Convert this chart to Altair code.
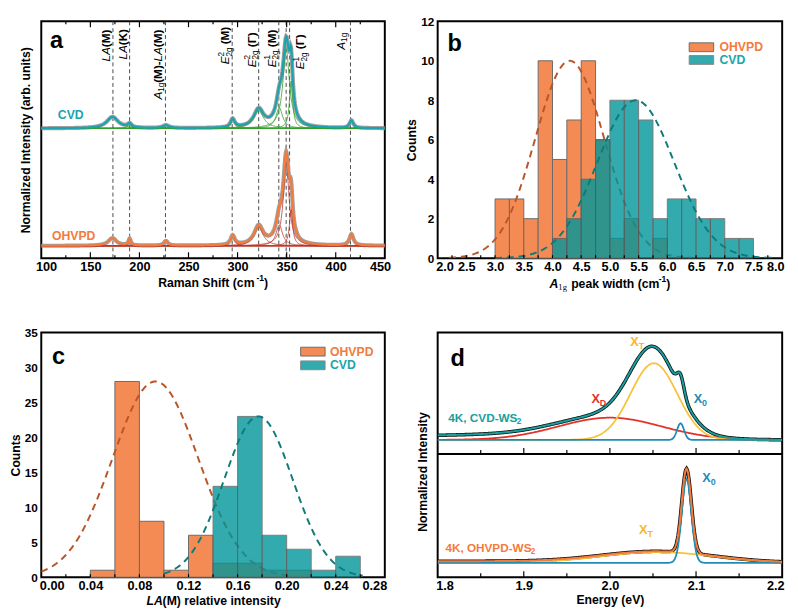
import numpy as np
import pandas as pd
import altair as alt

FONT = "Liberation Sans"

# ---------------- (a) Raman spectra: Lorentzian fit components ----------------
raman_centers = [172.5, 190.0, 227.0, 295.0, 321.5, 342.5, 349.5, 354.5, 416.0]
cvd_raman_amp = [0.122, 0.041, 0.031, 0.092, 0.194, 0.224, 0.856, 0.510, 0.082]
cvd_raman_fwhm = [14.0, 5.0, 8.0, 5.0, 12.0, 8.0, 8.0, 4.0, 4.5]
ohvpd_raman_amp = [0.082, 0.071, 0.051, 0.102, 0.204, 0.224, 0.898, 0.388, 0.122]
ohvpd_raman_fwhm = [10.0, 3.0, 5.0, 5.0, 11.0, 8.0, 7.0, 4.0, 5.0]
raman_mode_lines = [173.0, 190.0, 226.5, 294.5, 321.5, 342.0, 349.5, 353.0, 415.0]
raman_ticks = [100, 150, 200, 250, 300, 350, 400, 450]
raman_major_inner = [150, 200, 250, 300, 350, 400]
raman_minor_inner = [125, 175, 225, 275, 325, 375, 425]

# ---------------- (b) A1g peak width histogram ----------------
b_ohvpd_left = [3.0, 3.25, 3.5, 3.75, 4.0, 4.25, 4.5, 4.75, 5.0, 5.25, 5.75]
b_ohvpd_count = [3, 3, 2, 10, 5, 7, 10, 6, 1, 2, 1]
b_cvd_left = [4.0, 4.25, 4.5, 4.75, 5.0, 5.25, 5.5, 5.75, 6.0, 6.25, 6.5, 6.75, 7.0, 7.25]
b_cvd_count = [1, 2, 4, 6, 8, 8, 7, 2, 3, 3, 2, 2, 1, 1]
b_bin = 0.25
b_fit_ohvpd = (4.30, 0.60, 10.0)   # centre, sigma, height
b_fit_cvd = (5.45, 0.67, 8.0)
b_xticks = [2.0, 2.5, 3.0, 3.5, 4.0, 4.5, 5.0, 5.5, 6.0, 6.5, 7.0, 7.5, 8.0]
b_yticks = [0, 2, 4, 6, 8, 10, 12]
b_inner = [2.25, 2.5, 2.75, 3.0, 3.25, 3.5, 3.75, 4.0, 4.25, 4.5, 4.75, 5.0, 5.25, 5.5, 5.75,
           6.0, 6.25, 6.5, 6.75, 7.0, 7.25, 7.5, 7.75]

# ---------------- (c) LA(M) relative intensity histogram ----------------
c_ohvpd_left = [0.04, 0.06, 0.08, 0.10, 0.12, 0.14, 0.16, 0.18, 0.20]
c_ohvpd_count = [1, 28, 8, 1, 6, 2, 2, 1, 1]
c_cvd_left = [0.14, 0.16, 0.18, 0.20, 0.22, 0.24]
c_cvd_count = [13, 23, 6, 4, 1, 3]
c_bin = 0.02
c_fit_ohvpd = (0.093, 0.035, 28.0)
c_fit_cvd = (0.177, 0.028, 23.0)
c_xticks = [0.0, 0.04, 0.08, 0.12, 0.16, 0.20, 0.24, 0.28]
c_yticks = [0, 5, 10, 15, 20, 25, 30, 35]
c_inner = [0.02, 0.04, 0.06, 0.08, 0.10, 0.12, 0.14, 0.16, 0.18, 0.20, 0.22, 0.24, 0.26]

# ---------------- (d) 4K PL: Gaussian fit components ----------------
pl_cvd_names = ["XD", "XT", "X0"]
pl_cvd_center = [2.000, 2.051, 2.082]
pl_cvd_sigma = [0.060, 0.027, 0.004]
pl_cvd_amp = [0.227, 0.783, 0.170]
pl_cvd_bg = (1.85, 0.12, 0.05)
pl_ohvpd_names = ["XT", "X0"]
pl_ohvpd_center = [2.055, 2.089]
pl_ohvpd_sigma = [0.065, 0.0055]
pl_ohvpd_amp = [0.110, 0.860]
pl_ohvpd_bg = (1.80, 0.20, 0.017)
d_xticks = [1.8, 1.9, 2.0, 2.1, 2.2]
d_major_inner = [1.9, 2.0, 2.1]
d_minor_inner = [1.85, 1.95, 2.05, 2.15]

# ---------------- colours ----------------
C_ORANGE_BAR = "#F58B54"
C_TEAL_BAR = "#00959A"
C_ORANGE_FIT = "#B8552A"
C_TEAL_FIT = "#0E7B7A"
C_CVD = "#1BA3B1"
C_OHVPD = "#F47B3B"
C_GREEN = "#33A02C"
C_RED_COMP = "#C0392B"
C_D_TEAL = "#16A09E"
C_D_RED = "#E2332B"
C_D_YEL = "#F9C23C"
C_D_BLUE = "#1E8CB5"

# ---------------- geometry ----------------
W1, W2 = 351, 352
H1, H2 = 242, 250

W_REG = {' ': 278, '(': 333, ')': 333, '-': 333, '.': 278, ',': 278, 'A': 667, 'C': 722, 'D': 722,
         'E': 667, 'K': 667, 'L': 556, 'M': 833, 'O': 778, 'P': 667, 'R': 722, 'S': 667, 'T': 611,
         'V': 667, 'W': 944, 'X': 667, 'H': 722, 'a': 556, 'c': 500, 'e': 556, 'g': 556, 'h': 556,
         'i': 222, 'l': 222, 'm': 833, 'n': 556, 'o': 556, 'p': 556, 'r': 333, 's': 500, 't': 278,
         'u': 556, 'v': 500, 'w': 722, 'y': 500, 'k': 500, 'd': 556, 'Γ': 556}
W_BOLD = {' ': 278, '(': 333, ')': 333, '-': 333, '.': 278, ',': 278, 'A': 722, 'C': 722, 'D': 722,
          'E': 667, 'K': 722, 'L': 611, 'M': 833, 'O': 778, 'P': 667, 'R': 722, 'S': 667, 'T': 611,
          'V': 667, 'W': 944, 'X': 667, 'H': 722, 'a': 556, 'c': 556, 'e': 556, 'g': 611, 'h': 611,
          'i': 278, 'l': 278, 'm': 889, 'n': 611, 'o': 611, 'p': 611, 'r': 389, 's': 556, 't': 333,
          'u': 611, 'v': 556, 'w': 778, 'y': 556, 'k': 556, 'd': 611, 'Γ': 611}


def text_width(s, size, bold):
    tbl = W_BOLD if bold else W_REG
    return 0.99 * sum(tbl.get(ch, 556) for ch in s) / 1000.0 * size


def xaxis(values, fmt, title="", flush_off=2):
    return alt.Axis(values=values, format=fmt, title=title, labelFlush=True, labelFlushOffset=flush_off,
                    tickSize=0, domain=False,
                    grid=False, labelFont=FONT, labelFontSize=13, labelFontWeight="bold",
                    labelColor="black", labelPadding=3, labelOverlap=False, titleFont=FONT,
                    titleFontSize=12.5, titleFontWeight="bold", titleColor="black", titlePadding=1)


def yaxis(values, title):
    return alt.Axis(values=values, title=title, tickSize=0, domain=False, grid=False, labelFont=FONT,
                    labelFontSize=12, labelFontWeight="bold", labelColor="black", labelPadding=4,
                    labelOverlap=False, titleFont=FONT, titleFontSize=12.5, titleFontWeight="bold",
                    titleColor="black", titlePadding=2)


class Panel:
    """Holds the shared scales and axes of one layered panel."""

    def __init__(self, xs, ys, ax, ay):
        self.xs, self.ys, self.ax, self.ay = xs, ys, ax, ay

    def X(self, f):
        return alt.X(f, scale=self.xs, axis=self.ax)

    def Y(self, f):
        return alt.Y(f, scale=self.ys, axis=self.ay)


def rich(segs, x, y, size, color="black", angle=0, center=False, dy0=0.0, P=None, xdata=False, ydata=False):
    """Text with sub/superscripts built from several text marks."""
    items, cur = [], 0.0
    for seg in segs:
        text, kind, bold, italic = seg[:4]
        font = seg[4] if len(seg) > 4 else FONT
        sz = size * (0.7 if kind != "n" else 1.0)
        stripped = text.lstrip(" ")
        lead = text_width(text[:len(text) - len(stripped)], sz, bold)
        items.append((stripped, kind, bold, italic, font, sz, cur + lead))
        if kind != "sup0":
            cur += text_width(text, sz, bold)
    shift = -cur / 2.0 if center else 0.0
    layers = []
    for text, kind, bold, italic, font, sz, pos in items:
        off = {"n": 0.0, "sup": -0.38 * size, "sup0": -0.38 * size, "sub": 0.3 * size}[kind]
        df = {"t": [text]}
        if xdata:
            df["xd"] = [x]
            xe = P.X("xd:Q")
        else:
            xe = alt.value(x)
        if ydata:
            df["yd"] = [y]
            ye = P.Y("yd:Q")
        else:
            ye = alt.value(y)
        layers.append(
            alt.Chart(pd.DataFrame(df)).mark_text(
                align="left", baseline="middle", angle=angle, font=font, fontSize=sz,
                fontWeight="bold" if bold else "normal",
                fontStyle="italic" if italic else "normal",
                color=color, dx=shift + pos, dy=dy0 + off,
            ).encode(x=xe, y=ye, text="t:N")
        )
    return layers


def inner_ticks(P, vals, y_from, length, direction=-1):
    return alt.Chart(pd.DataFrame({"v": vals})).mark_rule(color="black", strokeWidth=1.2).encode(
        x=P.X("v:Q"), y=alt.value(y_from), y2=alt.value(y_from + direction * length))


def letter(ch, x, y):
    return alt.Chart(pd.DataFrame({"t": [ch]})).mark_text(
        align="left", baseline="alphabetic", font=FONT, fontSize=24, fontWeight="bold", color="black"
    ).encode(x=alt.value(x), y=alt.value(y), text="t:N")


def legend_box(w, x0, x1, ty, label, fill, color, opacity=1.0):
    sw = alt.Chart(pd.DataFrame({"t": [label]})).mark_rect(
        fill=fill, stroke="#6b6b6b", strokeWidth=1, opacity=opacity
    ).encode(x=alt.value(w + x0), x2=alt.value(w + x0 + 25), y=alt.value(ty - 4.5), y2=alt.value(ty + 4.5))
    tx = alt.Chart(pd.DataFrame({"t": [label]})).mark_text(
        align="left", baseline="middle", font=FONT, fontSize=12.5, fontWeight="bold", color=color
    ).encode(x=alt.value(w + x1), y=alt.value(ty), text="t:N")
    return [sw, tx]


# =============================== panel a ===============================
PA = Panel(alt.Scale(domain=[100, 450], nice=False, zero=False),
           alt.Scale(domain=[-0.133, 2.418], nice=False, zero=False),
           xaxis(raman_ticks, "d", "", flush_off=6),
           alt.Axis(title="Normalized Intensity (arb. units)", labels=False, ticks=False, domain=False,
                    grid=False, titleFont=FONT, titleFontSize=12.5, titleFontWeight="bold",
                    titleColor="black", titlePadding=9))
CVD_OFF = 1.265
grid_a = np.round(np.arange(100, 450.0001, 0.5), 2)


def lorentz(x, c, h, w):
    return h / (1.0 + ((x - c) / (w / 2.0)) ** 2)


tot_parts, comp_parts = [], []
for name, amps, fwhms, off in (("CVD", cvd_raman_amp, cvd_raman_fwhm, CVD_OFF),
                               ("OHVPD", ohvpd_raman_amp, ohvpd_raman_fwhm, 0.0)):
    total = np.full_like(grid_a, off, dtype=float)
    for i, (c, h, w) in enumerate(zip(raman_centers, amps, fwhms)):
        comp = lorentz(grid_a, c, h, w)
        total = total + comp
        comp_parts.append(pd.DataFrame({"x": grid_a, "y": np.round(off + comp, 4), "s": name, "k": f"{name}{i}"}))
    tot_parts.append(pd.DataFrame({"x": grid_a, "y": np.round(total, 4), "s": name}))
a_tot = pd.concat(tot_parts, ignore_index=True)
a_comp = pd.concat(comp_parts, ignore_index=True)

a_layers = [
    alt.Chart(pd.DataFrame({"v": raman_mode_lines})).mark_rule(
        color="#333333", strokeWidth=0.9, strokeDash=[4, 3]).encode(x=PA.X("v:Q")),
    alt.Chart(a_tot).mark_line(color="#a0a0a0", strokeWidth=4.2, clip=True).encode(
        x=PA.X("x:Q"), y=PA.Y("y:Q"), detail="s:N"),
    alt.Chart(a_comp[a_comp.s == "CVD"]).mark_line(color=C_GREEN, strokeWidth=0.8, clip=True).encode(
        x=PA.X("x:Q"), y=PA.Y("y:Q"), detail="k:N"),
    alt.Chart(a_comp[a_comp.s == "OHVPD"]).mark_line(color=C_RED_COMP, strokeWidth=0.8, clip=True).encode(
        x=PA.X("x:Q"), y=PA.Y("y:Q"), detail="k:N"),
    alt.Chart(a_tot[a_tot.s == "CVD"]).mark_line(color=C_CVD, strokeWidth=2.2, clip=True).encode(
        x=PA.X("x:Q"), y=PA.Y("y:Q")),
    alt.Chart(a_tot[a_tot.s == "OHVPD"]).mark_line(color=C_OHVPD, strokeWidth=2.2, clip=True).encode(
        x=PA.X("x:Q"), y=PA.Y("y:Q")),
    inner_ticks(PA, raman_major_inner, H1, 6, -1),
    inner_ticks(PA, raman_minor_inner, H1, 3, -1),
    inner_ticks(PA, raman_major_inner, 0, 6, 1),
    inner_ticks(PA, raman_minor_inner, 0, 3, 1),
    letter("a", 9, 27),
]
a_layers += rich([("CVD", "n", True, False)], 116.9, 1.408, 12.5, color=C_CVD, P=PA, xdata=True, ydata=True)
a_layers += rich([("OHVPD", "n", True, False)], 110.9, 0.102, 12.5, color=C_OHVPD, P=PA, xdata=True, ydata=True)

E = ("E", "n", False, True)
peak_labels = [
    (173.0, 41, -7, [("LA", "n", False, True), ("(M)", "n", True, False)]),
    (190.0, 39, -7, [("LA", "n", False, True), ("(K)", "n", True, False)]),
    (226.5, 80, -8, [("A", "n", False, True), ("1g", "sub", False, False), ("(M)-", "n", True, False),
                     ("LA", "n", False, True), ("(M)", "n", True, False)]),
    (294.5, 44, -7, [E, ("2", "sup0", False, False), ("2g", "sub", False, False), (" (M)", "n", True, False)]),
    (321.5, 47, -7, [E, ("2", "sup0", False, False), ("2g", "sub", False, False), (" (Γ)", "n", True, False)]),
    (342.0, 47, -7, [E, ("1", "sup0", False, False), ("2g", "sub", False, False), (" (M)", "n", True, False)]),
    (353.0, 49, 11, [E, ("1", "sup0", False, False), ("2g", "sub", False, False), (" (Γ)", "n", True, False)]),
    (415.0, 29, -10, [("A", "n", False, True), ("1g", "sub", False, False)]),
]
for lx, ly, ldy, segs in peak_labels:
    a_layers += rich(segs, lx, ly, 12, angle=270, dy0=ldy, P=PA, xdata=True)
a_layers += rich([("Raman Shift (cm", "n", True, False), ("-1", "sup", True, False), (")", "n", True, False)],
                 W1 / 2, H1 + 25, 12.5, center=True)
panel_a = alt.layer(*a_layers).properties(width=W1, height=H1)

# =============================== panels b & c ===============================


def gauss(x, c, s, h):
    return h * np.exp(-((x - c) ** 2) / (2 * s * s))


def hist_panel(oh_left, oh_n, cv_left, cv_n, binw, fit_oh, fit_cv, rng_oh, rng_cv, step,
               xdom, ydom, xticks, xfmt, yticks, inner, W, H, leg, title_segs, title_dy, let):
    P = Panel(alt.Scale(domain=xdom, nice=False, zero=False), alt.Scale(domain=ydom, nice=False, zero=False),
              xaxis(xticks, xfmt, ""), yaxis(yticks, "Counts"))
    oh = pd.DataFrame({"l": oh_left, "r": np.round(np.array(oh_left) + binw, 4), "n": oh_n})
    cv = pd.DataFrame({"l": cv_left, "r": np.round(np.array(cv_left) + binw, 4), "n": cv_n})
    gx_oh = np.arange(rng_oh[0], rng_oh[1] + step / 2, step)
    gx_cv = np.arange(rng_cv[0], rng_cv[1] + step / 2, step)
    f_oh = pd.DataFrame({"x": gx_oh, "y": gauss(gx_oh, *fit_oh)})
    f_cv = pd.DataFrame({"x": gx_cv, "y": gauss(gx_cv, *fit_cv)})
    layers = [
        alt.Chart(oh).mark_rect(fill=C_ORANGE_BAR, stroke="#6b6b6b", strokeWidth=1).encode(
            x=P.X("l:Q"), x2="r:Q", y=P.Y("n:Q"), y2=alt.datum(0)),
        alt.Chart(f_oh).mark_line(color=C_ORANGE_FIT, strokeWidth=2, strokeDash=[7, 5], clip=True).encode(
            x=P.X("x:Q"), y=P.Y("y:Q")),
        alt.Chart(cv).mark_rect(fill=C_TEAL_BAR, opacity=0.8, stroke="#5a5a5a", strokeWidth=1).encode(
            x=P.X("l:Q"), x2="r:Q", y=P.Y("n:Q"), y2=alt.datum(0)),
        alt.Chart(f_cv).mark_line(color=C_TEAL_FIT, strokeWidth=2, strokeDash=[7, 5], clip=True).encode(
            x=P.X("x:Q"), y=P.Y("y:Q")),
        inner_ticks(P, inner, H, 3, -1),
        letter(let[0], let[1], let[2]),
    ]
    layers += legend_box(W, leg[0], leg[1], leg[2], "OHVPD", C_ORANGE_BAR, "#F47B3B")
    layers += legend_box(W, leg[0], leg[1], leg[3], "CVD", C_TEAL_BAR, "#1AA5AA", 0.8)
    layers += rich(title_segs, W / 2, H + title_dy, 12.5, center=True)
    return alt.layer(*layers).properties(width=W, height=H)


panel_b = hist_panel(
    b_ohvpd_left, b_ohvpd_count, b_cvd_left, b_cvd_count, b_bin, b_fit_ohvpd, b_fit_cvd,
    (2.2, 6.4), (3.0, 7.9), 0.02, [2, 8], [0, 12], b_xticks, ".1f", b_yticks, b_inner, W2, H1,
    (-95, -64, 26.5, 39.5),
    [("A", "n", True, True), ("1g", "sub", False, False, "Liberation Serif"), (" peak width (cm", "n", True, False),
     ("-1", "sup", True, False), (")", "n", True, False)], 26, ("b", 10, 30))

panel_c = hist_panel(
    c_ohvpd_left, c_ohvpd_count, c_cvd_left, c_cvd_count, c_bin, c_fit_ohvpd, c_fit_cvd,
    (0.0, 0.205), (0.10, 0.262), 0.001, [0, 0.28], [0, 35], c_xticks, ".2f", c_yticks, c_inner, W1, H2,
    (-86, -56, 19.5, 33.5),
    [("LA", "n", True, True), ("(M) relative intensity", "n", True, False)], 24, ("c", 11, 32))

# =============================== panel d ===============================
PD = Panel(alt.Scale(domain=[1.8, 2.2], nice=False, zero=False),
           alt.Scale(domain=[-0.147, 2.353], nice=False, zero=False),
           xaxis(d_xticks, ".1f", "Energy (eV)"),
           alt.Axis(title="Normalized Intensity", labels=False, ticks=False, domain=False, grid=False,
                    titleFont=FONT, titleFontSize=12.5, titleFontWeight="bold", titleColor="black",
                    titleX=-8, titleY=round(H2 * 142 / 250)))
CVD_PL_OFF = 1.256
grid_d = np.round(np.arange(1.8, 2.2001, 0.001), 4)

d_tot_parts, d_comp_parts = [], []
for name, names, cen, sig, amp, bg, off in (
        ("CVD", pl_cvd_names, pl_cvd_center, pl_cvd_sigma, pl_cvd_amp, pl_cvd_bg, CVD_PL_OFF),
        ("OHVPD", pl_ohvpd_names, pl_ohvpd_center, pl_ohvpd_sigma, pl_ohvpd_amp, pl_ohvpd_bg, 0.0)):
    total = off + gauss(grid_d, *bg)
    for nm, c, s, h in zip(names, cen, sig, amp):
        comp = gauss(grid_d, c, s, h)
        total = total + comp
        d_comp_parts.append(pd.DataFrame({"x": grid_d, "y": np.round(off + comp, 4), "comp": nm, "s": name + nm}))
    d_tot_parts.append(pd.DataFrame({"x": grid_d, "y": np.round(total, 4), "s": name}))
d_tot = pd.concat(d_tot_parts, ignore_index=True)
d_comp = pd.concat(d_comp_parts, ignore_index=True)

DIV = round(H2 * 124 / 250)
d_layers = [
    alt.Chart(d_tot).mark_line(color="#111111", strokeWidth=3.6, clip=True).encode(
        x=PD.X("x:Q"), y=PD.Y("y:Q"), detail="s:N"),
    alt.Chart(d_comp).mark_line(strokeWidth=1.8, clip=True).encode(
        x=PD.X("x:Q"), y=PD.Y("y:Q"),
        color=alt.Color("comp:N", scale=alt.Scale(domain=["XD", "XT", "X0"], range=[C_D_RED, C_D_YEL, C_D_BLUE]),
                        legend=None),
        detail="s:N"),
    alt.Chart(d_tot[d_tot.s == "CVD"]).mark_line(color=C_D_TEAL, strokeWidth=2, clip=True).encode(
        x=PD.X("x:Q"), y=PD.Y("y:Q")),
    alt.Chart(d_tot[d_tot.s == "OHVPD"]).mark_line(color=C_OHVPD, strokeWidth=2, clip=True).encode(
        x=PD.X("x:Q"), y=PD.Y("y:Q")),
    alt.Chart(pd.DataFrame({"t": ["div"]})).mark_rule(color="black", strokeWidth=2).encode(
        x=alt.value(0), x2=alt.value(W2), y=alt.value(DIV)),
    inner_ticks(PD, d_major_inner, DIV, 6, -1),
    inner_ticks(PD, d_minor_inner, DIV, 4, -1),
    inner_ticks(PD, d_major_inner, H2, 6, -1),
    inner_ticks(PD, d_minor_inner, H2, 4, -1),
    letter("d", 13, 34),
]
d_layers += rich([("4K, CVD-WS", "n", True, False), ("2", "sub", True, False)], 1.8124, 1.483, 12,
                 color=C_D_TEAL, P=PD, xdata=True, ydata=True)
d_layers += rich([("4K, OHVPD-WS", "n", True, False), ("2", "sub", True, False)], 1.809, 0.153, 12,
                 color=C_OHVPD, P=PD, xdata=True, ydata=True)
for txt, sub, lx, ly, col in (("X", "D", 1.9785, 1.673, C_D_RED), ("X", "T", 2.0237, 2.253, "#F5B82E"),
                              ("X", "0", 2.0972, 1.673, C_D_BLUE), ("X", "0", 2.1073, 0.863, C_D_BLUE),
                              ("X", "T", 2.0339, 0.333, "#F5B82E")):
    d_layers += rich([(txt, "n", True, False), (sub, "sub", True, False)], lx, ly, 13, color=col,
                     P=PD, xdata=True, ydata=True)
panel_d = alt.layer(*d_layers).properties(width=W2, height=H2)

chart = alt.concat(
    panel_a, panel_b, panel_c, panel_d, columns=2, spacing={"row": 76, "column": 54}, bounds="flush"
).properties(
    padding={"left": 0, "top": 0, "right": 5, "bottom": 0}
).configure(font=FONT).configure_view(stroke="black", strokeWidth=2)

chart.save("out.html", embed_options={"renderer": "svg", "actions": False})
